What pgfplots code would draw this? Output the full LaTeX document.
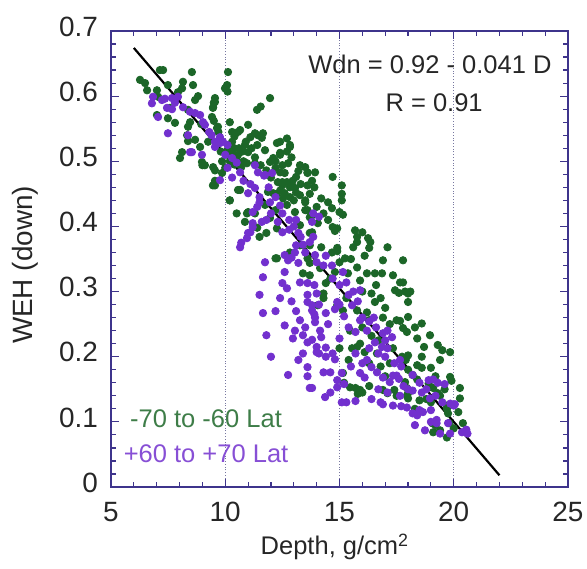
\documentclass[border=0pt]{standalone}
\usepackage{pgfplots}
\pgfplotsset{compat=1.18}
\usepackage{fontspec}
\setmainfont{Liberation Sans}

\definecolor{gdot}{RGB}{28,102,40}
\definecolor{pdot}{RGB}{114,48,206}
\definecolor{framec}{RGB}{62,52,140}
\definecolor{gridc}{RGB}{120,120,160}

\begin{document}
\begin{tikzpicture}
\useasboundingbox (-55.5bp,-41bp) rectangle (238bp,243.5bp);
\begin{axis}[
    at={(0,0)}, anchor=south west,
    scale only axis, width=228.5bp, height=228bp,
    xmin=5, xmax=25, ymin=0, ymax=0.7,
    xtick={5,10,15,20,25},
    ytick={0,0.1,0.2,0.3,0.4,0.5,0.6,0.7},
    minor x tick num=4, minor y tick num=4,
    tick pos=both, tick align=inside,
    major tick length=4bp, minor tick length=2.5bp,
    axis line style={framec, line width=0.8pt},
    every tick/.style={framec, line width=0.6pt},
    xmajorgrids,
    grid style={densely dotted, gridc, line width=0.5pt},
    /pgf/number format/assume math mode=true,
    ticklabel style={font=\fontsize{14}{16}\selectfont, text=black!85},
    xticklabel style={yshift=-4bp},
    yticklabel style={xshift=-3bp, yshift=2.2bp, /pgf/number format/fixed, /pgf/number format/precision=1},
    xlabel={Depth, g/cm\textsuperscript{2}},
    xlabel style={font=\fontsize{12.8}{15}\selectfont, text=black!85, at={(axis description cs:0.49,-0.149)}, anchor=base},
    ylabel={WEH (down)},
    ylabel style={font=\fontsize{14}{16}\selectfont, text=black!85, at={(axis description cs:-0.1707,0.487)}, anchor=base, rotate=0},
]

% -70 to -60 Lat
\addplot[only marks, mark=*, mark size=1.85bp, gdot, mark options={draw=gdot, fill=gdot}] table {
x y
7.14 0.640
7.28 0.640
8.54 0.637
6.27 0.625
6.49 0.620
7.49 0.617
8.15 0.622
8.59 0.617
6.58 0.609
7.01 0.609
8.11 0.612
7.93 0.606
8.81 0.600
8.68 0.594
7.06 0.599
9.55 0.591
9.46 0.582
7.58 0.582
8.37 0.579
9.42 0.568
9.50 0.562
7.01 0.571
7.49 0.566
7.80 0.559
8.46 0.560
8.37 0.553
8.33 0.540
8.68 0.533
8.37 0.531
8.11 0.514
8.02 0.505
8.98 0.499
9.11 0.494
9.46 0.463
9.86 0.482
9.86 0.500
10.12 0.637
10.08 0.617
10.10 0.607
11.96 0.597
11.39 0.579
11.55 0.584
11.00 0.556
10.65 0.548
11.65 0.543
11.30 0.543
11.10 0.537
10.30 0.545
10.40 0.538
12.26 0.528
12.83 0.522
12.40 0.513
12.70 0.515
12.50 0.494
12.10 0.505
10.20 0.525
10.30 0.512
10.20 0.500
10.50 0.502
10.70 0.491
10.95 0.497
11.30 0.497
11.55 0.494
11.80 0.486
12.30 0.468
12.50 0.468
12.83 0.460
12.95 0.470
13.10 0.452
12.60 0.451
12.10 0.451
10.65 0.456
10.20 0.440
10.95 0.420
11.30 0.420
11.50 0.384
11.40 0.398
11.80 0.390
12.26 0.351
9.55 0.463
9.47 0.491
9.00 0.494
8.90 0.522
9.25 0.530
9.64 0.551
9.70 0.545
9.47 0.583
9.50 0.590
8.95 0.557
9.99 0.612
9.55 0.597
9.68 0.553
10.20 0.560
10.56 0.545
11.43 0.540
11.60 0.536
10.86 0.525
10.30 0.530
10.40 0.520
10.10 0.517
10.10 0.510
10.56 0.510
10.30 0.500
10.80 0.500
11.00 0.514
11.74 0.517
12.40 0.530
12.83 0.525
12.70 0.535
11.30 0.506
11.96 0.499
12.40 0.510
12.90 0.506
12.20 0.500
12.40 0.483
12.75 0.497
13.27 0.494
13.50 0.491
13.60 0.482
12.60 0.482
13.10 0.476
12.70 0.468
12.90 0.463
12.50 0.463
13.05 0.459
13.27 0.448
13.50 0.437
12.83 0.445
12.53 0.443
12.70 0.433
12.26 0.448
11.87 0.453
11.74 0.433
12.20 0.425
13.05 0.422
13.50 0.425
13.70 0.450
13.80 0.417
11.96 0.413
12.26 0.397
11.00 0.422
10.50 0.420
10.86 0.407
10.20 0.440
10.56 0.456
9.55 0.486
9.55 0.470
13.27 0.402
13.80 0.391
13.40 0.371
13.60 0.483
13.93 0.483
13.60 0.463
13.90 0.460
14.70 0.476
15.10 0.463
15.10 0.450
15.10 0.440
14.20 0.443
14.50 0.437
13.50 0.440
14.67 0.428
15.00 0.422
15.15 0.418
13.60 0.425
14.05 0.405
13.70 0.414
14.70 0.399
14.90 0.397
14.80 0.393
13.70 0.390
15.68 0.394
16.00 0.391
15.77 0.384
16.25 0.382
16.35 0.376
17.10 0.368
14.20 0.368
14.90 0.367
15.60 0.368
13.70 0.371
14.67 0.360
14.90 0.362
15.77 0.376
16.30 0.367
15.24 0.351
15.50 0.350
15.77 0.337
16.90 0.348
17.78 0.348
13.70 0.344
14.15 0.336
15.37 0.328
16.20 0.328
16.55 0.328
16.86 0.328
17.34 0.325
17.78 0.314
15.90 0.317
14.40 0.313
14.60 0.320
17.43 0.302
17.60 0.298
18.00 0.297
16.40 0.297
16.55 0.284
14.30 0.297
14.30 0.290
14.90 0.279
15.15 0.271
15.77 0.271
16.20 0.268
16.30 0.256
16.90 0.260
17.50 0.256
17.78 0.244
17.20 0.250
16.00 0.245
15.46 0.240
15.90 0.220
15.77 0.215
16.10 0.207
15.55 0.213
16.64 0.205
17.34 0.213
17.74 0.200
17.90 0.195
17.20 0.190
15.00 0.213
15.15 0.175
15.46 0.153
15.70 0.152
15.90 0.149
16.00 0.145
15.80 0.143
16.90 0.149
17.10 0.144
17.40 0.149
17.50 0.140
17.95 0.152
17.95 0.140
12.20 0.351
12.83 0.360
13.60 0.351
13.40 0.328
13.70 0.325
13.27 0.371
14.05 0.279
17.65 0.314
17.87 0.300
18.10 0.300
18.00 0.284
18.00 0.261
17.65 0.255
17.95 0.238
18.60 0.251
18.40 0.228
18.96 0.233
19.30 0.218
19.50 0.210
19.84 0.207
19.40 0.195
18.00 0.202
18.60 0.200
18.40 0.187
18.60 0.183
19.00 0.183
18.00 0.180
18.20 0.172
19.84 0.169
19.90 0.163
17.87 0.161
18.40 0.165
18.90 0.159
19.10 0.152
19.30 0.144
19.40 0.140
20.27 0.152
20.27 0.136
18.00 0.144
18.00 0.136
18.50 0.133
18.80 0.135
19.70 0.125
19.70 0.120
19.75 0.113
20.40 0.098
19.05 0.098
19.20 0.095
19.10 0.084
19.40 0.087
19.80 0.098
19.70 0.076
10.40 0.495
10.60 0.520
10.90 0.530
10.75 0.515
11.15 0.520
11.40 0.525
10.00 0.490
9.80 0.515
12.00 0.475
12.20 0.490
13.00 0.440
13.30 0.465
13.80 0.470
13.20 0.485
12.40 0.455
14.30 0.420
14.50 0.410
14.00 0.430
16.10 0.355
16.60 0.310
16.80 0.290
17.00 0.275
16.40 0.232
16.70 0.225
16.30 0.190
16.80 0.185
15.40 0.195
15.20 0.160
16.30 0.155
18.70 0.215
18.30 0.245
19.20 0.170
19.60 0.150
19.00 0.130
18.30 0.120
20.20 0.115
20.00 0.090
17.00 0.170
14.80 0.330
15.00 0.345
16.00 0.300
15.30 0.290
};

% +60 to +70 Lat
\addplot[only marks, mark=*, mark size=1.85bp, pdot, mark options={draw=pdot, fill=pdot}] table {
x y
6.84 0.599
6.79 0.589
7.23 0.594
7.36 0.596
7.67 0.597
7.93 0.599
7.80 0.590
7.45 0.582
7.67 0.580
8.15 0.583
8.46 0.576
8.68 0.574
8.90 0.571
9.03 0.560
9.11 0.556
7.06 0.568
7.49 0.543
8.37 0.540
8.46 0.514
8.98 0.510
9.55 0.522
9.77 0.528
9.77 0.471
8.54 0.514
10.65 0.368
11.00 0.390
11.65 0.322
11.20 0.399
11.00 0.451
11.80 0.410
11.74 0.479
12.05 0.482
9.77 0.537
9.90 0.530
10.10 0.525
9.55 0.530
10.10 0.490
10.65 0.483
11.30 0.494
11.43 0.483
11.70 0.478
11.30 0.459
11.50 0.445
11.96 0.437
11.50 0.437
11.20 0.422
11.60 0.407
11.20 0.405
11.10 0.391
10.95 0.382
12.30 0.407
12.50 0.391
13.10 0.410
13.20 0.390
13.80 0.407
13.70 0.376
13.05 0.360
13.50 0.360
13.85 0.420
14.10 0.415
13.85 0.384
13.30 0.384
9.30 0.545
9.40 0.540
10.00 0.510
10.30 0.505
10.50 0.498
12.50 0.420
12.80 0.410
13.00 0.400
13.93 0.356
14.00 0.345
14.30 0.340
14.67 0.340
15.15 0.330
15.30 0.314
15.90 0.302
14.00 0.297
13.80 0.279
14.10 0.280
14.90 0.284
15.00 0.280
14.80 0.273
13.93 0.260
14.40 0.267
14.15 0.240
14.50 0.250
15.00 0.228
14.00 0.215
14.40 0.214
14.10 0.205
14.40 0.200
14.70 0.205
14.80 0.196
14.60 0.176
14.30 0.176
15.10 0.175
14.90 0.164
14.90 0.153
15.20 0.158
13.80 0.152
14.37 0.138
15.10 0.130
15.30 0.130
15.70 0.132
16.30 0.213
16.55 0.222
16.86 0.215
16.70 0.205
17.10 0.213
17.00 0.200
16.20 0.195
16.00 0.190
16.40 0.184
16.64 0.176
16.10 0.168
16.90 0.168
17.34 0.171
17.50 0.171
17.60 0.166
17.20 0.161
16.80 0.130
16.90 0.127
17.34 0.125
17.70 0.124
18.00 0.150
15.90 0.256
16.30 0.254
16.00 0.260
16.50 0.260
15.55 0.279
15.40 0.295
17.10 0.240
16.90 0.236
17.30 0.230
10.70 0.375
11.74 0.345
11.50 0.295
11.65 0.267
11.80 0.233
12.00 0.200
12.75 0.172
13.60 0.184
13.60 0.170
13.70 0.152
13.20 0.195
12.60 0.248
12.20 0.270
12.40 0.290
13.05 0.240
12.96 0.228
13.50 0.245
13.40 0.233
13.60 0.222
13.27 0.256
13.60 0.284
13.60 0.295
13.80 0.271
13.90 0.265
13.80 0.226
14.00 0.207
12.50 0.313
12.70 0.305
12.60 0.330
12.75 0.348
12.90 0.352
13.20 0.344
13.27 0.314
13.60 0.313
13.90 0.310
13.10 0.371
12.60 0.356
13.93 0.253
17.65 0.195
17.70 0.185
18.20 0.172
18.90 0.164
19.10 0.165
19.30 0.160
19.60 0.158
18.50 0.160
18.60 0.145
17.65 0.140
17.95 0.122
18.20 0.113
18.50 0.118
18.65 0.115
18.40 0.110
18.30 0.095
18.74 0.087
18.96 0.136
19.25 0.103
19.25 0.098
19.40 0.082
19.84 0.082
19.75 0.098
20.00 0.125
19.85 0.128
20.05 0.127
20.36 0.084
20.60 0.082
20.55 0.088
19.00 0.100
10.30 0.475
10.80 0.470
11.10 0.465
11.90 0.460
12.20 0.445
12.40 0.432
12.00 0.420
11.40 0.430
12.80 0.395
13.40 0.372
14.40 0.355
14.70 0.320
15.00 0.310
15.60 0.300
15.80 0.285
15.20 0.262
15.40 0.245
15.70 0.238
16.20 0.240
16.60 0.245
17.00 0.225
15.70 0.205
15.50 0.185
15.90 0.175
16.70 0.150
17.10 0.145
17.80 0.155
18.80 0.150
19.20 0.140
19.50 0.130
19.00 0.118
17.40 0.190
18.20 0.148
13.40 0.205
13.10 0.270
12.90 0.285
14.20 0.230
14.60 0.145
16.40 0.135
};

% fit line
\addplot[black, line width=1.1pt] coordinates {(6,0.674) (22,0.018)};

\node[anchor=base, font=\fontsize{12.8}{15}\selectfont, text=black!85] at (axis cs:18.96,0.634) {Wdn = 0.92 - 0.041 D};
\node[anchor=base, font=\fontsize{12.8}{15}\selectfont, text=black!85] at (axis cs:19.14,0.576) {R = 0.91};
\node[anchor=base, font=\fontsize{12.8}{15}\selectfont, text=gdot!85!white] at (axis cs:9.16,0.092) {-70 to -60 Lat};
\node[anchor=base, font=\fontsize{12.8}{15}\selectfont, text=pdot!85!white] at (axis cs:9.16,0.038) {+60 to +70 Lat};
\end{axis}
\end{tikzpicture}
\end{document}
